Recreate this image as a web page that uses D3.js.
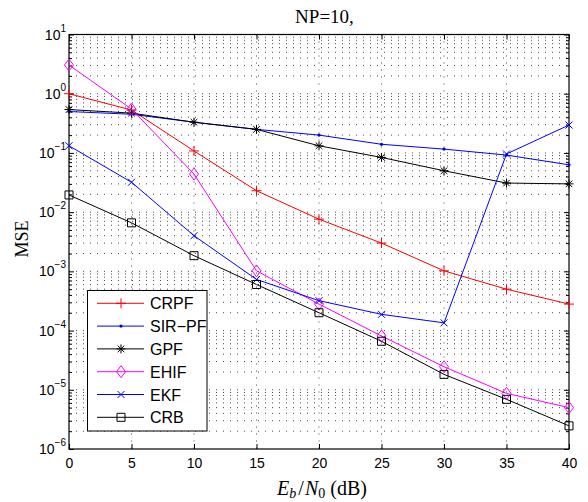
<!DOCTYPE html>
<html>
<head>
<meta charset="utf-8">
<script src="https://cdn.jsdelivr.net/npm/d3@7"></script>
<style>
  html, body { margin: 0; padding: 0; background: #fff; }
  svg { display: block; }
</style>
</head>
<body>
<svg id="chart" width="588" height="502"></svg>
<script>
// Eb/N0 sweep (dB)
const snr = [0, 5, 10, 15, 20, 25, 30, 35, 40];

// MSE for each estimator
const crpf  = [1.0, 0.53, 0.108, 0.023, 0.0076, 0.0030, 0.00102, 0.00050, 0.00028];
const sirpf = [0.50, 0.45, 0.33, 0.25, 0.20, 0.14, 0.116, 0.092, 0.063];
const gpf   = [0.54, 0.47, 0.33, 0.25, 0.132, 0.084, 0.050, 0.031, 0.030];
const ehif  = [3.05, 0.55, 0.044, 0.00102, 0.00028, 8.1e-5, 2.45e-5, 8.7e-6, 5.0e-6];
const ekf   = [0.132, 0.032, 0.0040, 0.00073, 0.00032, 0.000188, 0.000135, 0.096, 0.296];
const crb   = [0.0195, 0.0066, 0.00184, 0.00060, 0.00020, 6.6e-5, 1.82e-5, 6.9e-6, 2.46e-6];

const seriesNames = ["CRPF", "SIR\u2212PF", "GPF", "EHIF", "EKF", "CRB"];
const seriesData  = [crpf, sirpf, gpf, ehif, ekf, crb];
const seriesColor = ["#ff0000", "#0000ff", "#000000", "#ff00ff", "#0000ff", "#000000"];
const seriesMark  = ["plus", "point", "star", "diamond", "cross", "square"];

const xTicks = [0, 5, 10, 15, 20, 25, 30, 35, 40];
const yExponents = [-6, -5, -4, -3, -2, -1, 0, 1];

const svg = d3.select("#chart");
const L = 69, R = 569, T = 34.5, B = 449;

const x = d3.scaleLinear().domain([0, 40]).range([L, R]);
const y = d3.scaleLog().domain([1e-6, 10]).range([B, T]);

// dotted grid: major x, all decades plus minor y
const grid = svg.append("g")
  .attr("stroke", "#4a4a4a").attr("stroke-width", 1)
  .attr("stroke-dasharray", "1,6").attr("fill", "none");
const minorVals = [];
yExponents.slice(0, -1).forEach(e => {
  for (let m = 2; m <= 9; m++) minorVals.push(m * Math.pow(10, e));
});
xTicks.slice(1, -1).forEach(v => {
  grid.append("line").attr("x1", x(v)).attr("x2", x(v)).attr("y1", T).attr("y2", B);
});
yExponents.slice(1, -1).forEach(e => {
  const v = Math.pow(10, e);
  grid.append("line").attr("x1", L).attr("x2", R).attr("y1", y(v)).attr("y2", y(v));
});
minorVals.forEach(v => {
  grid.append("line").attr("x1", L).attr("x2", R).attr("y1", y(v)).attr("y2", y(v));
});

// axes with inward ticks on all four sides
const axB = d3.axisBottom(x).tickValues(xTicks).tickSizeInner(-5).tickSizeOuter(0).tickPadding(9).tickFormat(d3.format("d"));
const axT = d3.axisTop(x).tickValues(xTicks).tickSizeInner(-5).tickSizeOuter(0).tickFormat("");
const majorY = yExponents.map(e => Math.pow(10, e));
const axL = d3.axisLeft(y).tickValues(majorY).tickSizeInner(-5).tickSizeOuter(0).tickFormat("");
const axR = d3.axisRight(y).tickValues(majorY).tickSizeInner(-5).tickSizeOuter(0).tickFormat("");
const axLm = d3.axisLeft(y).tickValues(minorVals).tickSizeInner(-3).tickSizeOuter(0).tickFormat("");
const axRm = d3.axisRight(y).tickValues(minorVals).tickSizeInner(-3).tickSizeOuter(0).tickFormat("");

function styleAxis(g) {
  g.selectAll("path").remove();
  g.selectAll("line").attr("stroke", "#000").attr("stroke-width", 1);
  g.selectAll("text").attr("fill", "#000").attr("font-family", "Liberation Sans, Arial, sans-serif").attr("font-size", 14);
}
svg.append("g").attr("transform", `translate(0,${B})`).call(axB).call(styleAxis);
svg.append("g").attr("transform", `translate(0,${T})`).call(axT).call(styleAxis);
svg.append("g").attr("transform", `translate(${L},0)`).call(axL).call(styleAxis);
svg.append("g").attr("transform", `translate(${R},0)`).call(axR).call(styleAxis);
svg.append("g").attr("transform", `translate(${L},0)`).call(axLm).call(styleAxis);
svg.append("g").attr("transform", `translate(${R},0)`).call(axRm).call(styleAxis);

// y tick labels as 10^n
const yLab = svg.append("g").attr("font-family", "Liberation Sans, Arial, sans-serif").attr("fill", "#000");
yExponents.forEach(e => {
  const t = yLab.append("text").attr("x", 66).attr("y", y(Math.pow(10, e)) + 5).attr("text-anchor", "end");
  t.append("tspan").attr("font-size", 14).text("10");
  t.append("tspan").attr("font-size", 10).attr("dy", -8).text(e < 0 ? "\u2212" + (-e) : String(e));
});

// plot frame
svg.append("rect").attr("x", L).attr("y", T).attr("width", R - L).attr("height", B - T)
  .attr("fill", "none").attr("stroke", "#000").attr("stroke-width", 1.2);

// marker shapes
function markerPath(type, cx, cy) {
  const p = d3.path();
  switch (type) {
    case "plus":
      p.moveTo(cx - 5, cy); p.lineTo(cx + 5, cy);
      p.moveTo(cx, cy - 5); p.lineTo(cx, cy + 5); break;
    case "cross":
      p.moveTo(cx - 3.5, cy - 3.5); p.lineTo(cx + 3.5, cy + 3.5);
      p.moveTo(cx - 3.5, cy + 3.5); p.lineTo(cx + 3.5, cy - 3.5); break;
    case "star":
      p.moveTo(cx - 4.5, cy); p.lineTo(cx + 4.5, cy);
      p.moveTo(cx, cy - 4.5); p.lineTo(cx, cy + 4.5);
      p.moveTo(cx - 3.3, cy - 3.3); p.lineTo(cx + 3.3, cy + 3.3);
      p.moveTo(cx - 3.3, cy + 3.3); p.lineTo(cx + 3.3, cy - 3.3); break;
    case "diamond":
      p.moveTo(cx, cy - 6); p.lineTo(cx + 4.5, cy); p.lineTo(cx, cy + 6); p.lineTo(cx - 4.5, cy); p.closePath(); break;
    case "square":
      p.rect(cx - 4, cy - 4, 8, 8); break;
  }
  return p.toString();
}
function drawMarker(g, type, cx, cy, color) {
  if (type === "point") {
    g.append("circle").attr("cx", cx).attr("cy", cy).attr("r", 1.6).attr("fill", color);
  } else {
    g.append("path").attr("d", markerPath(type, cx, cy))
      .attr("fill", "none").attr("stroke", color).attr("stroke-width", 1);
  }
}

// series
const line = d3.line().x((d, i) => x(snr[i])).y(d => y(d));
seriesData.forEach((vals, k) => {
  const g = svg.append("g");
  g.append("path").attr("d", line(vals)).attr("fill", "none")
    .attr("stroke", seriesColor[k]).attr("stroke-width", 1);
  vals.forEach((v, i) => drawMarker(g, seriesMark[k], x(snr[i]), y(v), seriesColor[k]));
});

// legend
const lg = svg.append("g");
lg.append("rect").attr("x", 87.5).attr("y", 290.5).attr("width", 119.5).attr("height", 140.5)
  .attr("fill", "#fff").attr("stroke", "#000").attr("stroke-width", 1);
seriesNames.forEach((name, k) => {
  const yy = 303.3 + k * 22.8;
  lg.append("line").attr("x1", 97).attr("x2", 144).attr("y1", yy).attr("y2", yy)
    .attr("stroke", seriesColor[k]).attr("stroke-width", 1);
  drawMarker(lg, seriesMark[k], 121, yy, seriesColor[k]);
  lg.append("text").attr("x", 150).attr("y", yy + 6)
    .attr("font-family", "Liberation Sans, Arial, sans-serif").attr("font-size", 16)
    .attr("fill", "#000").text(name);
});

// title
svg.append("text").attr("x", 324.5).attr("y", 23).attr("text-anchor", "middle")
  .attr("font-family", "Liberation Serif, Times New Roman, serif").attr("font-size", 19)
  .attr("fill", "#000").text("NP=10,");

// x-axis label
const xl = svg.append("text").attr("x", 322).attr("y", 495).attr("text-anchor", "middle")
  .attr("font-family", "Liberation Serif, Times New Roman, serif").attr("font-size", 20).attr("fill", "#000");
xl.append("tspan").attr("font-style", "italic").text("E");
xl.append("tspan").attr("font-style", "italic").attr("font-size", 14).attr("dy", 3).text("b");
xl.append("tspan").attr("dy", -3).attr("dx", 2).text("/");
xl.append("tspan").attr("font-style", "italic").attr("dx", 1).text("N");
xl.append("tspan").attr("font-size", 14).attr("dy", 3).text("0");
xl.append("tspan").attr("dy", -3).attr("dx", 5).text("(dB)");

// y-axis label
svg.append("text").attr("transform", "translate(28,239) rotate(-90)").attr("text-anchor", "middle")
  .attr("font-family", "Liberation Serif, Times New Roman, serif").attr("font-size", 18)
  .attr("fill", "#000").text("MSE");
</script>
</body>
</html>
